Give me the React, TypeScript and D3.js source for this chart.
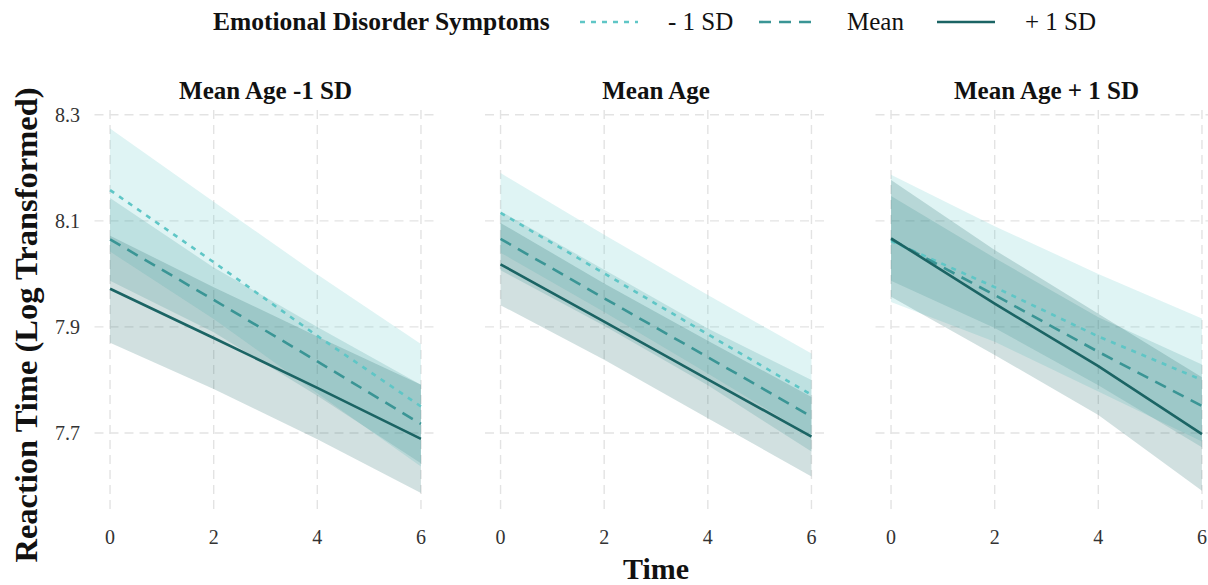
import * as d3 from "d3";
import React, { useRef, useEffect } from "react";

// facets, groups and ticks
const panelTitles = ["Mean Age -1 SD", "Mean Age", "Mean Age + 1 SD"];
const groupLabels = ["- 1 SD", "Mean", "+ 1 SD"];
const times = [0, 2, 4, 6];
const xTicks = [0, 2, 4, 6];
const yTicks = [7.7, 7.9, 8.1, 8.3];

// predicted log RT, rows = -1 SD, Mean, +1 SD emotional symptoms
const estYoung = [
  [8.158, 8.022, 7.883, 7.75],
  [8.065, 7.951, 7.835, 7.717],
  [7.972, 7.879, 7.785, 7.689],
];
const loYoung = [
  [8.042, 7.915, 7.775, 7.637],
  [7.987, 7.89, 7.77, 7.643],
  [7.87, 7.783, 7.688, 7.587],
];
const hiYoung = [
  [8.274, 8.136, 7.999, 7.868],
  [8.143, 8.012, 7.9, 7.791],
  [8.072, 7.975, 7.882, 7.791],
];

const estMid = [
  [8.115, 8.001, 7.886, 7.772],
  [8.066, 7.954, 7.843, 7.731],
  [8.018, 7.91, 7.801, 7.693],
];
const loMid = [
  [8.04, 7.928, 7.812, 7.694],
  [8.007, 7.902, 7.79, 7.665],
  [7.941, 7.838, 7.728, 7.618],
];
const hiMid = [
  [8.19, 8.074, 7.96, 7.85],
  [8.118, 8.008, 7.897, 7.8],
  [8.096, 7.982, 7.874, 7.768],
];

const estOld = [
  [8.062, 7.975, 7.882, 7.8],
  [8.065, 7.96, 7.853, 7.751],
  [8.067, 7.944, 7.826, 7.698],
];
const loOld = [
  [7.947, 7.872, 7.778, 7.684],
  [7.987, 7.898, 7.79, 7.673],
  [7.957, 7.847, 7.734, 7.591],
];
const hiOld = [
  [8.187, 8.09, 8.0, 7.916],
  [8.147, 8.03, 7.918, 7.829],
  [8.177, 8.045, 7.925, 7.805],
];

const colors = ["#5fc6c6", "#3a9595", "#1b6464"];
const dashes = ["5,6", "12,8", null];

const App = () => {
  const svgRef = useRef<SVGSVGElement>(null);
  const W = 1208;
  const H = 585;

  useEffect(() => {
    const svg = d3.select(svgRef.current);
    svg.selectAll("*").remove();

    const font = "'Liberation Serif', 'Times New Roman', serif";
    const panelLeft = [94.5, 485, 875.5];
    const panelW = 342;
    const top = 110;
    const bottom = 512;

    const x = d3.scaleLinear().domain([-0.3, 6.3]).range([0, panelW]);
    const y = d3.scaleLinear().domain([7.551, 8.309]).range([bottom, top]);

    const est = [estYoung, estMid, estOld];
    const lo = [loYoung, loMid, loOld];
    const hi = [hiYoung, hiMid, hiOld];

    panelTitles.forEach((title, pi) => {
      const g = svg.append("g").attr("transform", `translate(${panelLeft[pi]},0)`);

      // grid
      g.selectAll(".gx")
        .data(xTicks)
        .enter()
        .append("line")
        .attr("x1", (d) => x(d))
        .attr("x2", (d) => x(d))
        .attr("y1", top)
        .attr("y2", bottom)
        .attr("stroke", "#e3e3e3")
        .attr("stroke-width", 1.4)
        .attr("stroke-dasharray", "9,6");
      g.selectAll(".gy")
        .data(yTicks)
        .enter()
        .append("line")
        .attr("x1", 0)
        .attr("x2", panelW)
        .attr("y1", (d) => y(d))
        .attr("y2", (d) => y(d))
        .attr("stroke", "#e3e3e3")
        .attr("stroke-width", 1.4)
        .attr("stroke-dasharray", "9,6");

      // ribbons
      groupLabels.forEach((_, gi) => {
        const area = d3
          .area<number>()
          .x((d, i) => x(times[i]))
          .y0((d, i) => y(lo[pi][gi][i]))
          .y1((d, i) => y(hi[pi][gi][i]));
        g.append("path")
          .attr("d", area(times))
          .attr("fill", colors[gi])
          .attr("fill-opacity", 0.2);
      });

      // lines
      groupLabels.forEach((_, gi) => {
        const line = d3
          .line<number>()
          .x((d, i) => x(times[i]))
          .y((d) => y(d));
        g.append("path")
          .attr("d", line(est[pi][gi]))
          .attr("fill", "none")
          .attr("stroke", colors[gi])
          .attr("stroke-width", 2.6)
          .attr("stroke-dasharray", dashes[gi]);
      });

      // panel title
      g.append("text")
        .attr("x", panelW / 2)
        .attr("y", 99)
        .attr("text-anchor", "middle")
        .attr("font-family", font)
        .attr("font-weight", "bold")
        .attr("font-size", 25)
        .attr("fill", "#111")
        .text(title);

      // x tick labels
      g.selectAll(".xt")
        .data(xTicks)
        .enter()
        .append("text")
        .attr("x", (d) => x(d))
        .attr("y", 544)
        .attr("text-anchor", "middle")
        .attr("font-family", font)
        .attr("font-size", 20)
        .attr("fill", "#333")
        .text((d) => d3.format("d")(d));
    });

    // y tick labels
    svg
      .selectAll(".yt")
      .data(yTicks)
      .enter()
      .append("text")
      .attr("x", 80)
      .attr("y", (d) => y(d))
      .attr("dy", "0.35em")
      .attr("text-anchor", "end")
      .attr("font-family", font)
      .attr("font-size", 20)
      .attr("fill", "#333")
      .text((d) => d3.format(".1f")(d));

    // axis titles
    svg
      .append("text")
      .attr("x", 656)
      .attr("y", 579)
      .attr("text-anchor", "middle")
      .attr("font-family", font)
      .attr("font-weight", "bold")
      .attr("font-size", 30)
      .attr("fill", "#111")
      .text("Time");

    svg
      .append("text")
      .attr("transform", `translate(37,325) rotate(-90)`)
      .attr("text-anchor", "middle")
      .attr("font-family", font)
      .attr("font-weight", "bold")
      .attr("font-size", 32.5)
      .attr("fill", "#111")
      .text("Reaction Time (Log Transformed)");

    // legend
    const leg = svg.append("g");
    leg
      .append("text")
      .attr("x", 213)
      .attr("y", 30)
      .attr("font-family", font)
      .attr("font-weight", "bold")
      .attr("font-size", 25.5)
      .attr("fill", "#111")
      .text("Emotional Disorder Symptoms");

    const keyX = [580, 759, 937];
    groupLabels.forEach((lab, gi) => {
      leg
        .append("line")
        .attr("x1", keyX[gi])
        .attr("x2", keyX[gi] + 58)
        .attr("y1", 22)
        .attr("y2", 22)
        .attr("stroke", colors[gi])
        .attr("stroke-width", 2.6)
        .attr("stroke-dasharray", dashes[gi]);
      leg
        .append("text")
        .attr("x", keyX[gi] + 88)
        .attr("y", 30)
        .attr("font-family", font)
        .attr("font-size", 25)
        .attr("fill", "#111")
        .text(lab);
    });
  }, []);

  return (
    <svg
      ref={svgRef}
      width={W}
      height={H}
      style={{ position: "absolute", left: 0, top: 0, background: "#fff" }}
    />
  );
};

export default App;
